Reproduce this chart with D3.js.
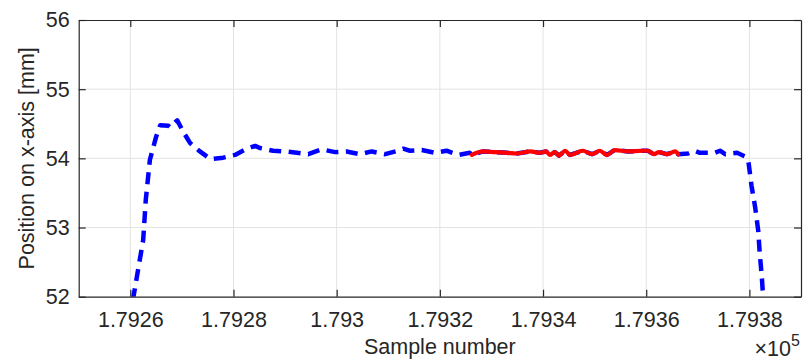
<!DOCTYPE html>
<html>
<head>
<meta charset="utf-8">
<script src="https://cdn.jsdelivr.net/npm/d3@7"></script>
<style>
  html, body { margin: 0; padding: 0; background: #ffffff; }
  svg { display: block; font-family: "Liberation Sans", Arial, Helvetica, sans-serif; }
</style>
</head>
<body>
<svg id="chart" width="803" height="363"></svg>
<script>
// ---- data ----
const xDomain = [179250, 179390];
const yDomain = [52, 56];
const xTicks = [179260, 179280, 179300, 179320, 179340, 179360, 179380];
const xTickLabels = ["1.7926", "1.7928", "1.793", "1.7932", "1.7934", "1.7936", "1.7938"];
const yTicks = [52, 53, 54, 55, 56];
const yTickLabels = ["52", "53", "54", "55", "56"];

// full trajectory (blue, dashed)
const blueSample = [179260.5, 179262.5, 179263.0, 179263.8, 179265.0, 179265.8, 179267.4, 179267.7, 179269.1,
  179270.3, 179271.6, 179273.5, 179275.5, 179278.0, 179280.3, 179282.6, 179284.2, 179285.1, 179287.7,
  179290.0, 179292.3, 179294.5, 179297.1, 179299.7, 179301.9, 179304.5, 179306.8, 179309.4, 179311.9,
  179312.9, 179314.2, 179316.5, 179319.1, 179321.3, 179323.6, 179325.8,
  179326.2, 179328.4, 179330.7, 179333.0, 179334.9, 179337.5, 179339.4, 179340.6, 179341.3, 179342.3,
  179343.1, 179344.3, 179345.2, 179347.7, 179349.5, 179351.0, 179352.4, 179353.9, 179356.5, 179359.2,
  179360.3, 179361.5, 179362.5, 179364.0, 179365.6, 179366.2,
  179368.1, 179369.4, 179370.4, 179373.3, 179374.3, 179375.3, 179377.6, 179379.1, 179379.8, 179380.4,
  179381.1, 179381.7, 179382.0, 179382.4, 179382.7];
const blueValue = [51.95, 52.82, 53.40, 53.98, 54.31, 54.48, 54.47, 54.45, 54.55,
  54.38, 54.22, 54.10, 53.99, 54.01, 54.05, 54.14, 54.18, 54.15, 54.11,
  54.10, 54.08, 54.06, 54.13, 54.09, 54.10, 54.06, 54.10, 54.06, 54.11,
  54.14, 54.11, 54.12, 54.08, 54.11, 54.05, 54.08,
  54.05, 54.10, 54.09, 54.08, 54.07, 54.10, 54.08, 54.10, 54.05, 54.09,
  54.04, 54.11, 54.05, 54.11, 54.06, 54.11, 54.05, 54.12, 54.10, 54.11,
  54.11, 54.06, 54.09, 54.06, 54.10, 54.06,
  54.07, 54.11, 54.08, 54.08, 54.11, 54.06, 54.08, 54.03, 53.96, 53.61,
  53.30, 52.96, 52.63, 52.29, 51.95];

// highlighted section (red, solid)
const redSample = [179326.2, 179328.4, 179330.7, 179333.0, 179334.9, 179337.5, 179339.4, 179340.6, 179341.3, 179342.3,
  179343.1, 179344.3, 179345.2, 179347.7, 179349.5, 179351.0, 179352.4, 179353.9, 179356.5, 179359.2,
  179360.3, 179361.5, 179362.5, 179364.0, 179365.6, 179366.2];
const redValue = [54.05, 54.10, 54.09, 54.08, 54.07, 54.10, 54.08, 54.10, 54.05, 54.09,
  54.04, 54.11, 54.05, 54.11, 54.06, 54.11, 54.05, 54.12, 54.10, 54.11,
  54.11, 54.06, 54.09, 54.06, 54.10, 54.06];

const xLabel = "Sample number";
const yLabel = "Position on x-axis [mm]";

// ---- layout ----
const svg = d3.select("#chart");
const mLeft = 78.7, mRight = 801, mTop = 20, mBottom = 296.7;
const x = d3.scaleLinear().domain(xDomain).range([mLeft, mRight]);
const y = d3.scaleLinear().domain(yDomain).range([mBottom, mTop]);
const axisColor = "#262626";
const gridColor = "#e3e3e3";
const fontSize = "21.5px";

// grid
const grid = svg.append("g");
grid.selectAll("line.vx").data(xTicks).join("line")
  .attr("x1", d => x(d)).attr("x2", d => x(d))
  .attr("y1", mTop).attr("y2", mBottom)
  .attr("stroke", gridColor).attr("stroke-width", 1);
grid.selectAll("line.hy").data(yTicks.filter(d => d > yDomain[0] && d < yDomain[1])).join("line")
  .attr("x1", mLeft).attr("x2", mRight)
  .attr("y1", d => y(d)).attr("y2", d => y(d))
  .attr("stroke", gridColor).attr("stroke-width", 1);

// clip
svg.append("clipPath").attr("id", "plotclip").append("rect")
  .attr("x", mLeft).attr("y", mTop).attr("width", mRight - mLeft).attr("height", mBottom - mTop);

const line = d3.line().x(d => x(d[0])).y(d => y(d[1]));
const plot = svg.append("g").attr("clip-path", "url(#plotclip)");

plot.append("path")
  .datum(blueSample.map((s, i) => [s, blueValue[i]]))
  .attr("d", line)
  .attr("fill", "none")
  .attr("stroke", "#0000ff")
  .attr("stroke-width", 4.5)
  .attr("stroke-dasharray", "12,7.5")
  .attr("stroke-linejoin", "round");

plot.append("path")
  .datum(redSample.map((s, i) => [s, redValue[i]]))
  .attr("d", line.curve(d3.curveMonotoneX))
  .attr("fill", "none")
  .attr("stroke", "#ff0000")
  .attr("stroke-width", 4.2)
  .attr("stroke-linejoin", "round")
  .attr("stroke-linecap", "round");

// axes (MATLAB style, ticks inside, box)
const tickLen = 7;
const xAxisB = d3.axisBottom(x).tickValues(xTicks).tickSizeInner(-tickLen).tickSizeOuter(0)
  .tickFormat((d, i) => xTickLabels[i]).tickPadding(15);
const xAxisT = d3.axisTop(x).tickValues(xTicks).tickSizeInner(-tickLen).tickSizeOuter(0).tickFormat("");
const yAxisL = d3.axisLeft(y).tickValues(yTicks).tickSizeInner(-tickLen).tickSizeOuter(0)
  .tickFormat((d, i) => yTickLabels[i]).tickPadding(9);
const yAxisR = d3.axisRight(y).tickValues(yTicks).tickSizeInner(-tickLen).tickSizeOuter(0).tickFormat("");

function style(g) {
  g.select(".domain").attr("stroke", axisColor).attr("stroke-width", 1.2);
  g.selectAll(".tick line").attr("stroke", axisColor).attr("stroke-width", 1.2);
  g.selectAll(".tick text").attr("fill", axisColor).style("font-size", fontSize)
    .style("font-family", "'Liberation Sans', Arial, Helvetica, sans-serif");
}
svg.append("g").attr("transform", `translate(0,${mBottom})`).call(xAxisB).call(style);
svg.append("g").attr("transform", `translate(0,${mTop})`).call(xAxisT).call(style);
svg.append("g").attr("transform", `translate(${mLeft},0)`).call(yAxisL).call(style);
svg.append("g").attr("transform", `translate(${mRight},0)`).call(yAxisR).call(style);

// labels
svg.append("text")
  .attr("x", (mLeft + mRight) / 2).attr("y", 354)
  .attr("text-anchor", "middle")
  .attr("fill", axisColor).style("font-size", fontSize)
  .text(xLabel);

svg.append("text")
  .attr("transform", `translate(34,${(mTop + mBottom) / 2}) rotate(-90)`)
  .attr("text-anchor", "middle")
  .attr("fill", axisColor).style("font-size", fontSize)
  .text(yLabel);

// exponent
svg.append("text")
  .attr("x", 791).attr("y", 356)
  .attr("text-anchor", "end")
  .attr("fill", axisColor).style("font-size", fontSize)
  .text("\u00d710");
svg.append("text")
  .attr("x", 791).attr("y", 346)
  .attr("fill", axisColor).style("font-size", "16px")
  .text("5");
</script>
</body>
</html>
